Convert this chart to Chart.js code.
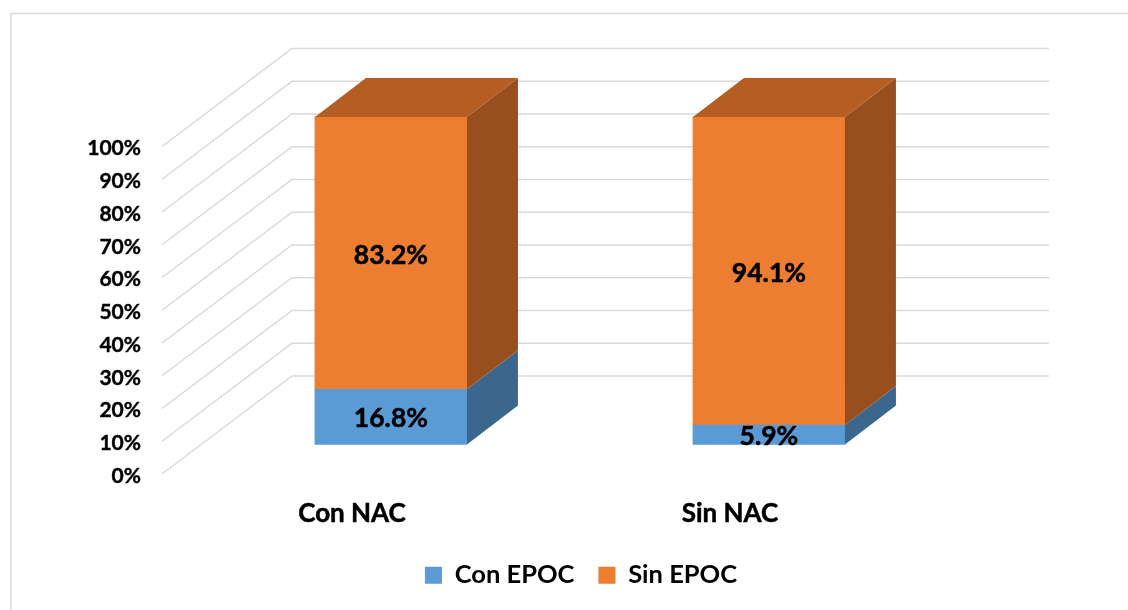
<!DOCTYPE html>
<html>
<head>
<meta charset="utf-8">
<script src="https://cdn.jsdelivr.net/npm/chart.js@4"></script>
<style>
  html, body { margin: 0; background: #fff; }
  canvas { display: block; }
</style>
</head>
<body>
<canvas id="myChart" width="1128" height="610"></canvas>
<script>
var categorias = ['Con NAC', 'Sin NAC'];
var posiciones = [0, 1];
var conEpoc = [16.8, 5.9];
var sinEpoc = [83.2, 94.1];

var GRID = '#D9D9D9';

// depth of the back wall and of the bars, in px
var WALL_DX = 130, WALL_DY = 98;
var BAR_DX = 51, BAR_DY = 39;

var sideColors = ['#3C678C', '#974F1D'];
var topColor = '#B55D22';

function puntos(values) {
  return values.map(function (v, i) { return { x: posiciones[i], y: v }; });
}

function poly(ctx, color, pts) {
  ctx.fillStyle = color;
  ctx.beginPath();
  ctx.moveTo(pts[0][0], pts[0][1]);
  for (var i = 1; i < pts.length; i++) ctx.lineTo(pts[i][0], pts[i][1]);
  ctx.closePath();
  ctx.fill();
}

var frame = {
  id: 'frame',
  beforeDraw: function (chart) {
    var ctx = chart.ctx;
    ctx.save();
    ctx.strokeStyle = GRID;
    ctx.lineWidth = 1.5;
    ctx.beginPath();
    ctx.moveTo(11, chart.height);
    ctx.lineTo(11, 13.5);
    ctx.lineTo(chart.width, 13.5);
    ctx.stroke();
    ctx.restore();
  }
};

var wall = {
  id: 'wall',
  beforeDatasetsDraw: function (chart) {
    var ctx = chart.ctx, y = chart.scales.y, area = chart.chartArea;
    ctx.save();
    ctx.strokeStyle = GRID;
    ctx.lineWidth = 1.5;
    y.ticks.forEach(function (t) {
      var py = y.getPixelForValue(t.value);
      ctx.beginPath();
      ctx.moveTo(area.left - 1, py);
      ctx.lineTo(area.left - 1 + WALL_DX, py - WALL_DY);
      ctx.lineTo(area.right + WALL_DX, py - WALL_DY);
      ctx.stroke();
    });
    ctx.restore();
  }
};

var bars3d = {
  id: 'bars3d',
  afterDatasetsDraw: function (chart) {
    var ctx = chart.ctx;
    ctx.save();
    chart.data.datasets.forEach(function (ds, d) {
      chart.getDatasetMeta(d).data.forEach(function (bar, i) {
        var r = bar.x + bar.width / 2, l = bar.x - bar.width / 2;
        poly(ctx, sideColors[d], [[r, bar.base], [r + BAR_DX, bar.base - BAR_DY], [r + BAR_DX, bar.y - BAR_DY], [r, bar.y]]);
        if (d === chart.data.datasets.length - 1) {
          poly(ctx, topColor, [[l, bar.y], [l + BAR_DX, bar.y - BAR_DY], [r + BAR_DX, bar.y - BAR_DY], [r, bar.y]]);
        }
        var txt = ds.data[i].y.toFixed(1) + '%';
        var ty = (bar.y + bar.base) / 2 + 2;
        ctx.fillStyle = '#000';
        ctx.strokeStyle = '#000';
        ctx.lineWidth = 0.5;
        ctx.font = 'bold 26.5px Lato';
        ctx.textAlign = 'center';
        ctx.textBaseline = 'middle';
        ctx.fillText(txt, bar.x, ty);
        ctx.strokeText(txt, bar.x, ty);
      });
    });
    ctx.restore();
  }
};

new Chart(document.getElementById('myChart'), {
  type: 'bar',
  data: {
    labels: categorias,
    datasets: [
      { label: 'Con EPOC', data: puntos(conEpoc), backgroundColor: '#5B9BD5', xAxisID: 'xBar', yAxisID: 'yBar', clip: false, barThickness: 152 },
      { label: 'Sin EPOC', data: puntos(sinEpoc), backgroundColor: '#ED7D31', xAxisID: 'xBar', yAxisID: 'yBar', clip: false, barThickness: 152 }
    ]
  },
  options: {
    responsive: false,
    animation: false,
    layout: { padding: { left: 34, top: 146.5, bottom: 12 } },
    plugins: {
      tooltip: { enabled: false },
      legend: {
        position: 'bottom',
        labels: {
          boxWidth: 17,
          boxHeight: 17,
          padding: 24,
          color: '#000',
          font: { family: 'Lato', size: 25.5, weight: 'bold' }
        }
      }
    },
    scales: {
      x: {
        type: 'category',
        offset: true,
        grid: { display: false },
        border: { display: false },
        ticks: {
          color: '#000',
          padding: 16,
          maxRotation: 0,
          textStrokeColor: '#000',
          textStrokeWidth: 0.5,
          font: { family: 'Lato', size: 26, weight: 'bold' }
        },
        afterFit: function (s) { s.height = 64.5; }
      },
      y: {
        position: 'left',
        min: 0,
        max: 100,
        grid: { display: false },
        border: { display: false },
        ticks: {
          stepSize: 10,
          color: '#000',
          padding: 14,
          labelOffset: 2,
          textStrokeColor: '#000',
          textStrokeWidth: 0.4,
          font: { family: 'Lato', size: 21, weight: 'bold' },
          callback: function (v) { return v + '%'; }
        },
        afterFit: function (s) { s.width = 129; }
      },
      // bars sit behind the axis plane, so they get their own shifted scales
      xBar: {
        axis: 'x',
        type: 'linear',
        display: false,
        offset: false,
        stacked: true,
        min: -0.603,
        max: 1.397
      },
      yBar: {
        axis: 'y',
        position: 'right',
        stacked: true,
        min: -9.04,
        max: 90.96,
        grid: { display: false },
        border: { display: false },
        ticks: { display: false },
        afterFit: function (s) { s.width = 209; }
      }
    }
  },
  plugins: [frame, wall, bars3d]
});
</script>
</body>
</html>
